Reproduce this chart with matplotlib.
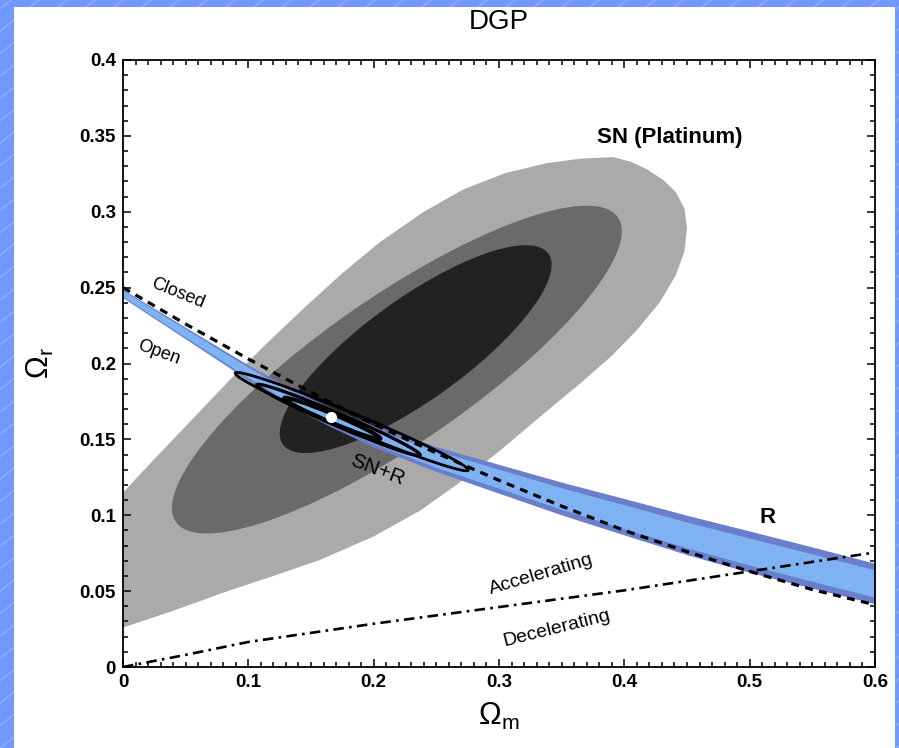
import numpy as np
import matplotlib.pyplot as plt
from matplotlib.patches import Ellipse, Rectangle
from matplotlib.lines import Line2D
from matplotlib.ticker import MultipleLocator

plt.rcParams['font.family'] = ['Liberation Sans', 'DejaVu Sans']
plt.rcParams['mathtext.fontset'] = 'custom'
plt.rcParams['mathtext.rm'] = 'Liberation Sans'
plt.rcParams['mathtext.it'] = 'Liberation Sans:italic'
plt.rcParams['mathtext.bf'] = 'Liberation Sans:bold'

# SN (Platinum), outer (3 sigma) region: boundary
sn3_x = [0, 0.04, 0.08, 0.12, 0.157, 0.2, 0.237, 0.266, 0.3, 0.33, 0.365, 0.39,
         0.41, 0.428, 0.441, 0.448, 0.45, 0.448, 0.441, 0.431, 0.418, 0.405, 0.391,
         0.365, 0.338, 0.305, 0.271, 0.24, 0.205, 0.175, 0.145, 0.115, 0.085,
         0.055, 0.025, 0]
sn3_y = [0.026, 0.037, 0.049, 0.06, 0.0705, 0.086, 0.103, 0.12, 0.142, 0.163, 0.187,
         0.205, 0.222, 0.24, 0.258, 0.274, 0.289, 0.302, 0.313, 0.321, 0.328, 0.333,
         0.336, 0.335, 0.332, 0.3255, 0.3145, 0.30, 0.28, 0.2595, 0.237, 0.2135,
         0.189, 0.163, 0.137, 0.115]

# SN (Platinum) 2 and 1 sigma regions (ellipses)
sn_cx = [0.2185, 0.2335]
sn_cy = [0.196, 0.2095]
sn_sx = [0.1795, 0.1085]
sn_sy = [0.108, 0.0685]
sn_rho = [0.844, 0.81]
sn_colors = ['#aaaaaa', '#6a6a6a', '#222222']

# SN+R combined contours (outline only)
snr_cx = [0.1825, 0.1719, 0.167]
snr_cy = [0.1617, 0.1628, 0.1638]
snr_sx = [0.093, 0.0652, 0.0383]
snr_sy = [0.0324, 0.0235, 0.0136]
snr_rho = [-0.983, -0.9815, -0.975]
snr_lw = [2.0, 2.4, 3.0]

best_fit = (0.1657, 0.165)

# R (shift parameter) band
band_x = [0, 0.025, 0.05, 0.075, 0.1, 0.125, 0.15, 0.165, 0.2, 0.25,
          0.3, 0.35, 0.4, 0.45, 0.5, 0.55, 0.6]
band_mid = [0.246, 0.233, 0.220, 0.207, 0.194, 0.182, 0.171, 0.165, 0.152,
            0.137, 0.124, 0.111, 0.099, 0.087, 0.076, 0.0655, 0.055]
band_half = [0.0027, 0.0033, 0.0038, 0.0044, 0.005, 0.0055, 0.006, 0.0063, 0.007,
             0.0082, 0.0095, 0.0108, 0.012, 0.013, 0.0136, 0.0136, 0.0133]
band_core = [0.002, 0.0024, 0.0028, 0.0031, 0.0035, 0.0038, 0.0041, 0.0043, 0.0047,
             0.0055, 0.0063, 0.0071, 0.0079, 0.0085, 0.0089, 0.009, 0.009]

# flat universe line (closed / open)
closed_x = [0, 0.05, 0.1, 0.15, 0.2, 0.25, 0.3, 0.35, 0.4, 0.45, 0.5, 0.55, 0.6]
closed_y = [0.250, 0.226, 0.203, 0.181, 0.160, 0.141, 0.123, 0.106, 0.090,
            0.076, 0.063, 0.051, 0.041]

# accelerating / decelerating boundary
acc_x = [0, 0.05, 0.1, 0.2, 0.3, 0.4, 0.5, 0.6]
acc_y = [0.0, 0.008, 0.0165, 0.0285, 0.0395, 0.0505, 0.063, 0.0755]

x_ticks = [0, 0.1, 0.2, 0.3, 0.4, 0.5, 0.6]
x_labels = ['0', '0.1', '0.2', '0.3', '0.4', '0.5', '0.6']
y_ticks = [0, 0.05, 0.1, 0.15, 0.2, 0.25, 0.3, 0.35, 0.4]
y_labels = ['0', '0.05', '0.1', '0.15', '0.2', '0.25', '0.3', '0.35', '0.4']


def cov_ellipse(cx, cy, sx, sy, rho, **kw):
    cov = np.array([[sx**2, rho*sx*sy], [rho*sx*sy, sy**2]])
    vals, vecs = np.linalg.eigh(cov)
    angle = np.degrees(np.arctan2(vecs[1, 1], vecs[0, 1]))
    return Ellipse((cx, cy), 2*np.sqrt(vals[1]), 2*np.sqrt(vals[0]), angle=angle, **kw)


W, H = 899, 748
fig = plt.figure(figsize=(W/100, H/100), dpi=100, facecolor='#7098ff')

# slide background: faint diagonal lines and white panel
for k in range(-40, 40):
    x0 = k*28
    fig.add_artist(Line2D([x0/W, (x0+1000)/W], [0, 800/H], transform=fig.transFigure,
                          color='#a6c2ff', lw=0.6, zorder=-2))
fig.add_artist(Rectangle((14/W, 0), 881/W, 741/H, transform=fig.transFigure,
                         facecolor='white', edgecolor='none', zorder=-1))

ax = fig.add_axes([123/W, 1-667/H, 752/W, 607/H])
ax.set_xlim(0, 0.6)
ax.set_ylim(0, 0.4)

ax.fill(sn3_x, sn3_y, color=sn_colors[0], lw=0, zorder=1)
for i in range(2):
    ax.add_patch(cov_ellipse(sn_cx[i], sn_cy[i], sn_sx[i], sn_sy[i], sn_rho[i],
                             facecolor=sn_colors[i+1], edgecolor='none', zorder=1))

bx = np.array(band_x)
bm = np.array(band_mid)
ax.fill_between(bx, bm - np.array(band_half), bm + np.array(band_half),
                color='#6a7fcc', lw=0, zorder=2)
ax.fill_between(bx, bm - np.array(band_core), bm + np.array(band_core),
                color='#7fb2f2', lw=0, zorder=2)

ax.plot(closed_x, closed_y, color='black', lw=2.3, ls=(0, (2.5, 2.0)), zorder=3)
ax.plot(acc_x, acc_y, color='black', lw=1.9, ls=(0, (4.0, 2.0, 1.0, 2.0)), zorder=3)

for i in range(3):
    ax.add_patch(cov_ellipse(snr_cx[i], snr_cy[i], snr_sx[i], snr_sy[i], snr_rho[i],
                             facecolor='none', edgecolor='black', lw=snr_lw[i], zorder=4))

ax.plot(best_fit[0], best_fit[1], 'o', color='white', ms=7, mec='white', zorder=6)

ax.text(0.378, 0.3486, 'SN (Platinum)', fontsize=16, fontweight='bold', ha='left', va='center')
ax.text(0.5146, 0.0982, 'R', fontsize=16, fontweight='bold', ha='center', va='center')
ax.text(0.2027, 0.1298, 'SN+R', fontsize=15, rotation=-21, ha='center', va='center')
ax.text(0.0435, 0.2465, 'Closed', fontsize=13, rotation=-22, ha='center', va='center')
ax.text(0.0283, 0.2072, 'Open', fontsize=13, rotation=-20, ha='center', va='center')
ax.text(0.3335, 0.061, 'Accelerating', fontsize=14, rotation=16.5, ha='center', va='center')
ax.text(0.3459, 0.0254, 'Decelerating', fontsize=14, rotation=14, ha='center', va='center')

ax.set_xticks(x_ticks)
ax.set_xticklabels(x_labels, fontweight='bold')
ax.set_yticks(y_ticks)
ax.set_yticklabels(y_labels, fontweight='bold')
ax.xaxis.set_minor_locator(MultipleLocator(0.01))
ax.yaxis.set_minor_locator(MultipleLocator(0.01))
ax.tick_params(which='both', direction='in', top=True, right=True, width=1.1)
ax.tick_params(which='major', length=6, labelsize=13.5, pad=5)
ax.tick_params(which='minor', length=3.5)
for s in ax.spines.values():
    s.set_linewidth(1.3)

fig.text(499/W, 1-22/H, 'DGP', ha='center', va='center', fontsize=20)
fig.text(499/W, 1-716/H, r'$\Omega_{\rm m}$', ha='center', va='center', fontsize=22)
fig.text(40/W, 1-363/H, r'$\Omega_{\rm r}$', ha='center', va='center', fontsize=22, rotation=90)

fig.savefig('out.png', dpi=100, facecolor=fig.get_facecolor())
